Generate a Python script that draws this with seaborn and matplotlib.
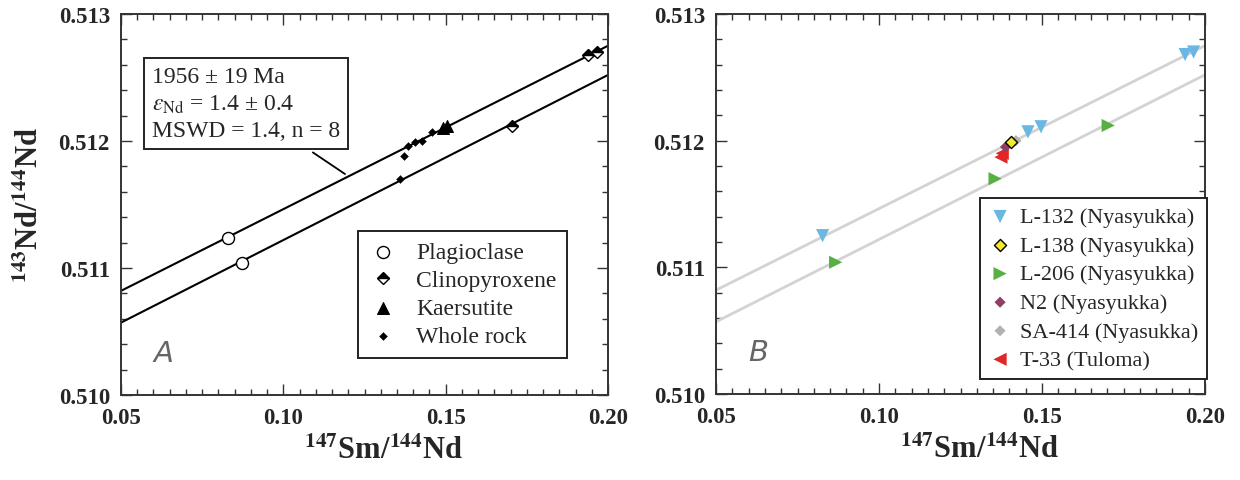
import numpy as np
import pandas as pd
import matplotlib
matplotlib.use("Agg")
import matplotlib.pyplot as plt
from matplotlib.ticker import MultipleLocator, FormatStrFormatter
import seaborn as sns

# ---------------- data ----------------
line_x = [0.05, 0.20]
upper_y = [0.51082, 0.51275]
lower_y = [0.51057, 0.51252]

plag_x = [0.0829, 0.0872]
plag_y = [0.51124, 0.51104]
cpx_x = [0.1939, 0.1965, 0.1703]
cpx_y = [0.51268, 0.51270, 0.51212]
kaer_x = [0.1493, 0.1503]
kaer_y = [0.51210, 0.51212]
wr_x = [0.1359, 0.1372, 0.1385, 0.1406, 0.1426, 0.1457]
wr_y = [0.51170, 0.51188, 0.51196, 0.51199, 0.51200, 0.51207]

l132_x = [0.0827, 0.1457, 0.1497, 0.1939, 0.1965]
l132_y = [0.51125, 0.51207, 0.51211, 0.51268, 0.51270]
l138_x = [0.1404]
l138_y = [0.51199]
l206_x = [0.0867, 0.1356, 0.1703]
l206_y = [0.51104, 0.51170, 0.51212]
n2_x = [0.1388]
n2_y = [0.51195]
sa414_x = [0.1420]
sa414_y = [0.51200]
t33_x = [0.1374, 0.1378]
t33_y = [0.51187, 0.51190]

x_ticks = [0.05, 0.10, 0.15, 0.20]
y_ticks = [0.510, 0.511, 0.512, 0.513]
annot_lines = ["1956 ± 19 Ma", r"$\varepsilon_{\mathrm{Nd}}$ = 1.4 ± 0.4", "MSWD = 1.4, n = 8"]

# ---------------- style ----------------
sns.set_style("ticks")
plt.rcParams['font.family'] = ['Liberation Serif', 'DejaVu Serif']
plt.rcParams['mathtext.fontset'] = 'stix'

fig = plt.figure(figsize=(12.4, 4.81), dpi=100)
axA = fig.add_axes([121/1240, 1 - 396/481, 487/1240, 381/481])
axB = fig.add_axes([716/1240, 1 - 395/481, 489/1240, 380/481])

xlab = r"$^{\mathbf{147}}$Sm/$^{\mathbf{144}}$Nd"
ylab = r"$^{\mathbf{143}}$Nd/$^{\mathbf{144}}$Nd"

def style_axis(ax):
    ax.set_xlim(x_ticks[0], x_ticks[-1])
    ax.set_ylim(y_ticks[0], y_ticks[-1])
    ax.set_xticks(x_ticks)
    ax.set_yticks(y_ticks)
    ax.xaxis.set_major_formatter(FormatStrFormatter('%.2f'))
    ax.yaxis.set_major_formatter(FormatStrFormatter('%.3f'))
    ax.xaxis.set_minor_locator(MultipleLocator(0.005))
    ax.yaxis.set_minor_locator(MultipleLocator(0.0002))
    ax.tick_params(which='both', direction='in', top=True, right=True,
                   color='#333333', width=1.0)
    ax.tick_params(which='major', length=8, labelsize=16.5)
    ax.tick_params(axis='x', which='major', pad=9)
    ax.tick_params(axis='y', which='major', pad=8)
    ax.tick_params(which='minor', length=4)
    for lab in ax.get_xticklabels() + ax.get_yticklabels():
        lab.set_fontweight('bold')
    for sp in ax.spines.values():
        sp.set_visible(True)
        sp.set_linewidth(1.4)
        sp.set_color('#333333')
    ax.set_xlabel(xlab, fontsize=22, fontweight='bold')
    ax.xaxis.set_label_coords(0.54, -0.105)
    ax.set_ylabel("")

# ---------------- panel A ----------------
sns.lineplot(x=line_x, y=upper_y, ax=axA, color='black', lw=1.5, sort=False)
sns.lineplot(x=line_x, y=lower_y, ax=axA, color='black', lw=1.5, sort=False)

sns.scatterplot(x=plag_x, y=plag_y, ax=axA, marker='o', s=75, facecolor='white',
                edgecolor='black', linewidth=1.0, label='Plagioclase', zorder=5)
sns.lineplot(x=cpx_x, y=cpx_y, ax=axA, marker='D', linestyle='', markersize=6.5,
             fillstyle='top', color='black', markerfacecoloralt='white',
             markeredgecolor='black', markeredgewidth=1.0, label='Clinopyroxene',
             sort=False, zorder=5)
sns.scatterplot(x=kaer_x, y=kaer_y, ax=axA, marker='^', s=75, color='black',
                edgecolor='black', label='Kaersutite', zorder=5)
sns.scatterplot(x=wr_x, y=wr_y, ax=axA, marker='D', s=16, color='black',
                edgecolor='black', label='Whole rock', zorder=5)

style_axis(axA)
axA.set_ylabel(ylab, fontsize=22, fontweight='bold', labelpad=10)

legA = axA.legend(loc='upper left', bbox_to_anchor=(0.487, 0.43), fontsize=17,
                  frameon=True, fancybox=False, shadow=False, framealpha=1,
                  edgecolor='#222222', labelspacing=0.27, handletextpad=0.8,
                  borderpad=0.45, handlelength=1.2, borderaxespad=0)
legA.get_frame().set_linewidth(1.4)

axA.text(0.0595, 0.51259, "\n".join(annot_lines), fontsize=17, va='top', ha='left',
         linespacing=1.32,
         bbox=dict(boxstyle='square,pad=0.35', facecolor='white',
                   edgecolor='#222222', linewidth=1.4), zorder=6)
axA.annotate("", xy=(0.1190, 0.51174), xytext=(0.1091, 0.51191),
             arrowprops=dict(arrowstyle='-', color='black', lw=1.3,
                             shrinkA=0, shrinkB=0), zorder=4)
axA.text(0.060, 0.51027, "A", fontsize=21, fontstyle='italic', color='#666666',
         family='DejaVu Sans', fontweight='light', va='baseline')

# ---------------- panel B ----------------
sns.lineplot(x=line_x, y=upper_y, ax=axB, color='#d3d3d3', lw=2.0, sort=False)
sns.lineplot(x=line_x, y=lower_y, ax=axB, color='#d3d3d3', lw=2.0, sort=False)

sns.scatterplot(x=l132_x, y=l132_y, ax=axB, marker='v', s=90, color='#6ab7e3',
                edgecolor='none', label='L-132 (Nyasyukka)', zorder=5)
sns.scatterplot(x=l138_x, y=l138_y, ax=axB, marker='D', s=38, color='#f4e92a',
                edgecolor='black', linewidth=1.0, label='L-138 (Nyasyukka)', zorder=7)
sns.scatterplot(x=l206_x, y=l206_y, ax=axB, marker='>', s=90, color='#58b043',
                edgecolor='none', label='L-206 (Nyasyukka)', zorder=5)
sns.scatterplot(x=n2_x, y=n2_y, ax=axB, marker='D', s=32, color='#8e3f63',
                edgecolor='none', label='N2 (Nyasyukka)', zorder=6)
sns.scatterplot(x=sa414_x, y=sa414_y, ax=axB, marker='D', s=32, color='#b2b2b2',
                edgecolor='none', label='SA-414 (Nyasukka)', zorder=5)
sns.scatterplot(x=t33_x, y=t33_y, ax=axB, marker='<', s=90, color='#e02626',
                edgecolor='none', label='T-33 (Tuloma)', zorder=5)

style_axis(axB)
legB = axB.legend(loc='upper left', bbox_to_anchor=(0.54, 0.516), fontsize=16,
                  frameon=True, fancybox=False, shadow=False, framealpha=1,
                  edgecolor='#222222', labelspacing=0.36, handletextpad=0.4,
                  borderpad=0.4, handlelength=1.0, borderaxespad=0)
legB.get_frame().set_linewidth(1.4)
axB.text(0.060, 0.51027, "B", fontsize=21, fontstyle='italic', color='#666666',
         family='DejaVu Sans', fontweight='light', va='baseline')

fig.savefig("out.png", dpi=100)
